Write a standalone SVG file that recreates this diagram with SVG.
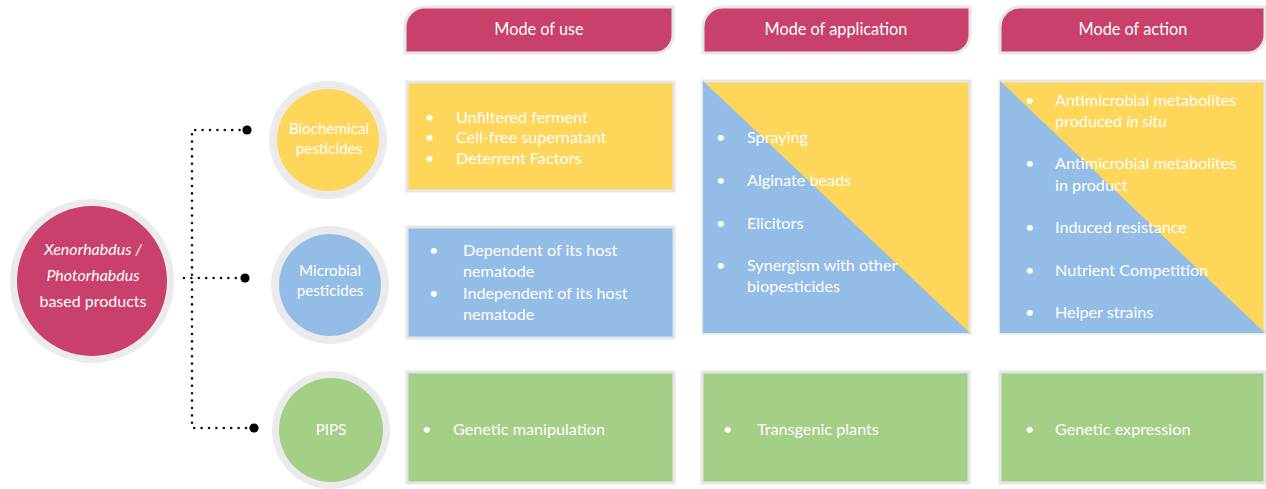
<svg xmlns="http://www.w3.org/2000/svg" width="1266" height="489" viewBox="0 0 1266 489">
  <style>
    text { font-family: Lato, "Open Sans", "Liberation Sans", sans-serif; fill: #ffffff; }
    .hd { font-size: 16.3px; text-anchor: middle; }
    .it { font-size: 16.2px; }
    .ct { font-size: 16px; text-anchor: middle; }
    .sm { font-size: 15.2px; }
    .halo { fill: #ebebee; }
    .frame { stroke: #e6e6e6; stroke-width: 3; }
    .red { fill: #c9406a; }
    .yel { fill: #fed65a; }
    .blu { fill: #93bde6; }
    .grn { fill: #a3cf86; }
    .dots { fill: none; stroke: #111; stroke-width: 2.6; stroke-linecap: round; stroke-dasharray: 0 7.4; }
  </style>

  <rect width="1266" height="489" fill="#ffffff"/>

  <!-- dotted connectors from the product circle to the three categories -->
  <g id="connectors">
    <path class="dots" d="M247 130 H192 V428 H254"/>
    <path class="dots" d="M184 278 H245"/>
    <circle cx="247" cy="130" r="4.6" fill="#000"/>
    <circle cx="245" cy="278" r="4.6" fill="#000"/>
    <circle cx="254" cy="428" r="4.6" fill="#000"/>
  </g>

  <!-- root circle -->
  <g id="root">
    <circle class="halo" cx="92" cy="281" r="82"/>
    <circle class="red" cx="92" cy="281" r="75"/>
    <text class="ct" x="93" y="255" font-style="italic">Xenorhabdus /</text>
    <text class="ct" x="93" y="281" font-style="italic">Photorhabdus</text>
    <text class="ct" x="93" y="307">based products</text>
  </g>

  <!-- category circles -->
  <g id="biochemical">
    <circle class="halo" cx="328" cy="140" r="59"/>
    <circle class="yel" cx="328" cy="140" r="51"/>
    <text class="ct sm" x="329" y="134">Biochemical</text>
    <text class="ct sm" x="329" y="154">pesticides</text>
  </g>
  <g id="microbial">
    <circle class="halo" cx="330" cy="285" r="59"/>
    <circle class="blu" cx="330" cy="285" r="51"/>
    <text class="ct sm" x="330" y="276">Microbial</text>
    <text class="ct sm" x="330" y="296">pesticides</text>
  </g>
  <g id="pips">
    <circle class="halo" cx="331" cy="430" r="59"/>
    <circle class="grn" cx="331" cy="430" r="52"/>
    <text class="ct sm" x="331" y="435">PIPS</text>
  </g>

  <!-- column headers -->
  <g id="head-use">
    <path class="red frame" d="M405 53 V27 A20 20 0 0 1 425 7 H673 V35 A18 18 0 0 1 655 53 Z"/>
    <text class="hd" x="539" y="35">Mode of use</text>
  </g>
  <g id="head-application">
    <path class="red frame" d="M703 53 V27 A20 20 0 0 1 723 7 H970 V35 A18 18 0 0 1 952 53 Z"/>
    <text class="hd" x="836" y="35">Mode of application</text>
  </g>
  <g id="head-action">
    <path class="red frame" d="M1000 53 V27 A20 20 0 0 1 1020 7 H1265 V35 A18 18 0 0 1 1247 53 Z"/>
    <text class="hd" x="1133" y="35">Mode of action</text>
  </g>

  <!-- Mode of use -->
  <g id="use-biochemical">
    <rect class="yel frame" x="407" y="82" width="267" height="109"/>
    <text class="it"><tspan x="425" y="123">•</tspan><tspan x="456" y="123">Unfiltered ferment</tspan></text>
    <text class="it"><tspan x="425" y="143">•</tspan><tspan x="456" y="143">Cell-free supernatant</tspan></text>
    <text class="it"><tspan x="425" y="164">•</tspan><tspan x="456" y="164">Deterrent Factors</tspan></text>
  </g>
  <g id="use-microbial">
    <rect class="blu frame" x="407" y="227" width="267" height="111"/>
    <text class="it"><tspan x="429" y="256">•</tspan><tspan x="463" y="256">Dependent of its host</tspan></text>
    <text class="it" x="463" y="277">nematode</text>
    <text class="it"><tspan x="429" y="299">•</tspan><tspan x="463" y="299">Independent of its host</tspan></text>
    <text class="it" x="463" y="320">nematode</text>
  </g>
  <g id="use-pips">
    <rect class="grn frame" x="407" y="372" width="267" height="111"/>
    <text class="it"><tspan x="422" y="435">•</tspan><tspan x="453" y="435">Genetic manipulation</tspan></text>
  </g>

  <!-- Mode of application -->
  <g id="application-shared">
    <rect class="frame" x="703" y="81" width="267" height="252" fill="#fed65a"/>
    <polygon class="blu" points="703,81 970,333 703,333"/>
    <text class="it"><tspan x="716" y="143">•</tspan><tspan x="747" y="143">Spraying</tspan></text>
    <text class="it"><tspan x="716" y="186">•</tspan><tspan x="747" y="186">Alginate beads</tspan></text>
    <text class="it"><tspan x="716" y="229">•</tspan><tspan x="747" y="229">Elicitors</tspan></text>
    <text class="it"><tspan x="716" y="271">•</tspan><tspan x="747" y="271">Synergism with other</tspan></text>
    <text class="it" x="747" y="292">biopesticides</text>
  </g>
  <g id="application-pips">
    <rect class="grn frame" x="702" y="372" width="267" height="111"/>
    <text class="it"><tspan x="723" y="435">•</tspan><tspan x="757" y="435">Transgenic plants</tspan></text>
  </g>

  <!-- Mode of action -->
  <g id="action-shared">
    <rect class="frame" x="1000" y="81" width="265" height="252" fill="#fed65a"/>
    <polygon class="blu" points="1000,81 1265,333 1000,333"/>
    <text class="it"><tspan x="1025" y="106">•</tspan><tspan x="1055" y="106">Antimicrobial metabolites</tspan></text>
    <text class="it" x="1055" y="127">produced <tspan font-style="italic">in situ</tspan></text>
    <text class="it"><tspan x="1025" y="169">•</tspan><tspan x="1055" y="169">Antimicrobial metabolites</tspan></text>
    <text class="it" x="1055" y="191">in product</text>
    <text class="it"><tspan x="1025" y="233">•</tspan><tspan x="1055" y="233">Induced resistance</tspan></text>
    <text class="it"><tspan x="1025" y="276">•</tspan><tspan x="1055" y="276">Nutrient Competition</tspan></text>
    <text class="it"><tspan x="1025" y="318">•</tspan><tspan x="1055" y="318">Helper strains</tspan></text>
  </g>
  <g id="action-pips">
    <rect class="grn frame" x="1000" y="372" width="265" height="111"/>
    <text class="it"><tspan x="1025" y="435">•</tspan><tspan x="1055" y="435">Genetic expression</tspan></text>
  </g>
</svg>
